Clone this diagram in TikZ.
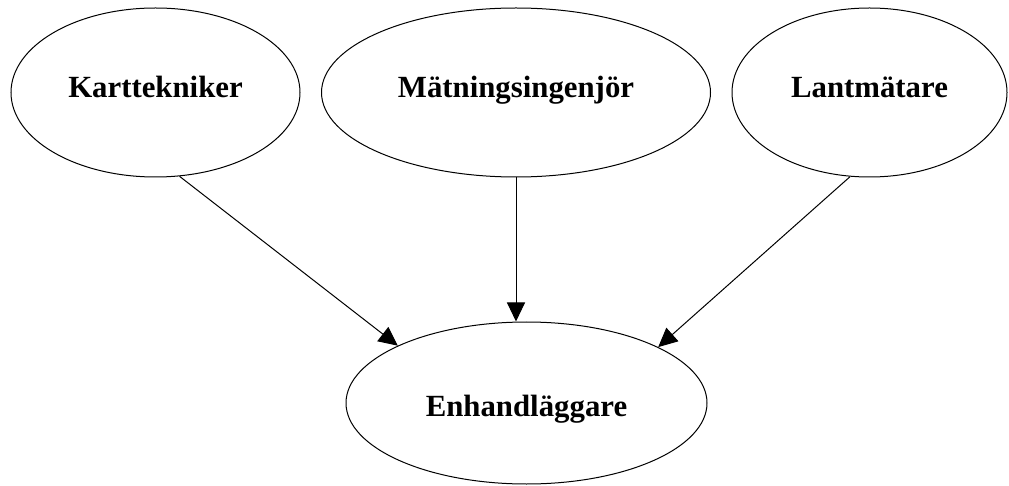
\documentclass[tikz,border=0pt]{standalone}
\usepackage{fontspec}
\setmainfont{Liberation Serif}
\usetikzlibrary{shapes.geometric,arrows.meta}

\begin{document}
\begin{tikzpicture}[x=1pt, y=1pt, line width=1pt,
    every node/.style={ellipse, draw, inner sep=0pt,
      font=\fontsize{30.8}{37}\selectfont\bfseries,
      text height=20pt, text depth=10pt},
    pil/.style={-{Triangle[length=19pt, width=18pt]}}]
      \useasboundingbox (0,0) rectangle (1009,485);

      \node[minimum width=289pt, minimum height=169pt] (1) at (155.5,392.5) {Karttekniker};
      \node[minimum width=389pt, minimum height=169pt] (2) at (516,392.5) {Mätningsingenjör};
      \node[minimum width=275pt, minimum height=169pt] (3) at (869.5,392.5) {Lantmätare};
      \node[minimum width=361pt, minimum height=162pt,
            text height=26pt, text depth=0pt] (4) at (526.5,82) {Enhandläggare};

      \draw[pil] (1.-74) -- (4.156);
      \draw[pil] (2.south) -- (2.south |- 4.north);
      \draw[pil] (3.-103) -- (4.23);
\end{tikzpicture}
\end{document}
